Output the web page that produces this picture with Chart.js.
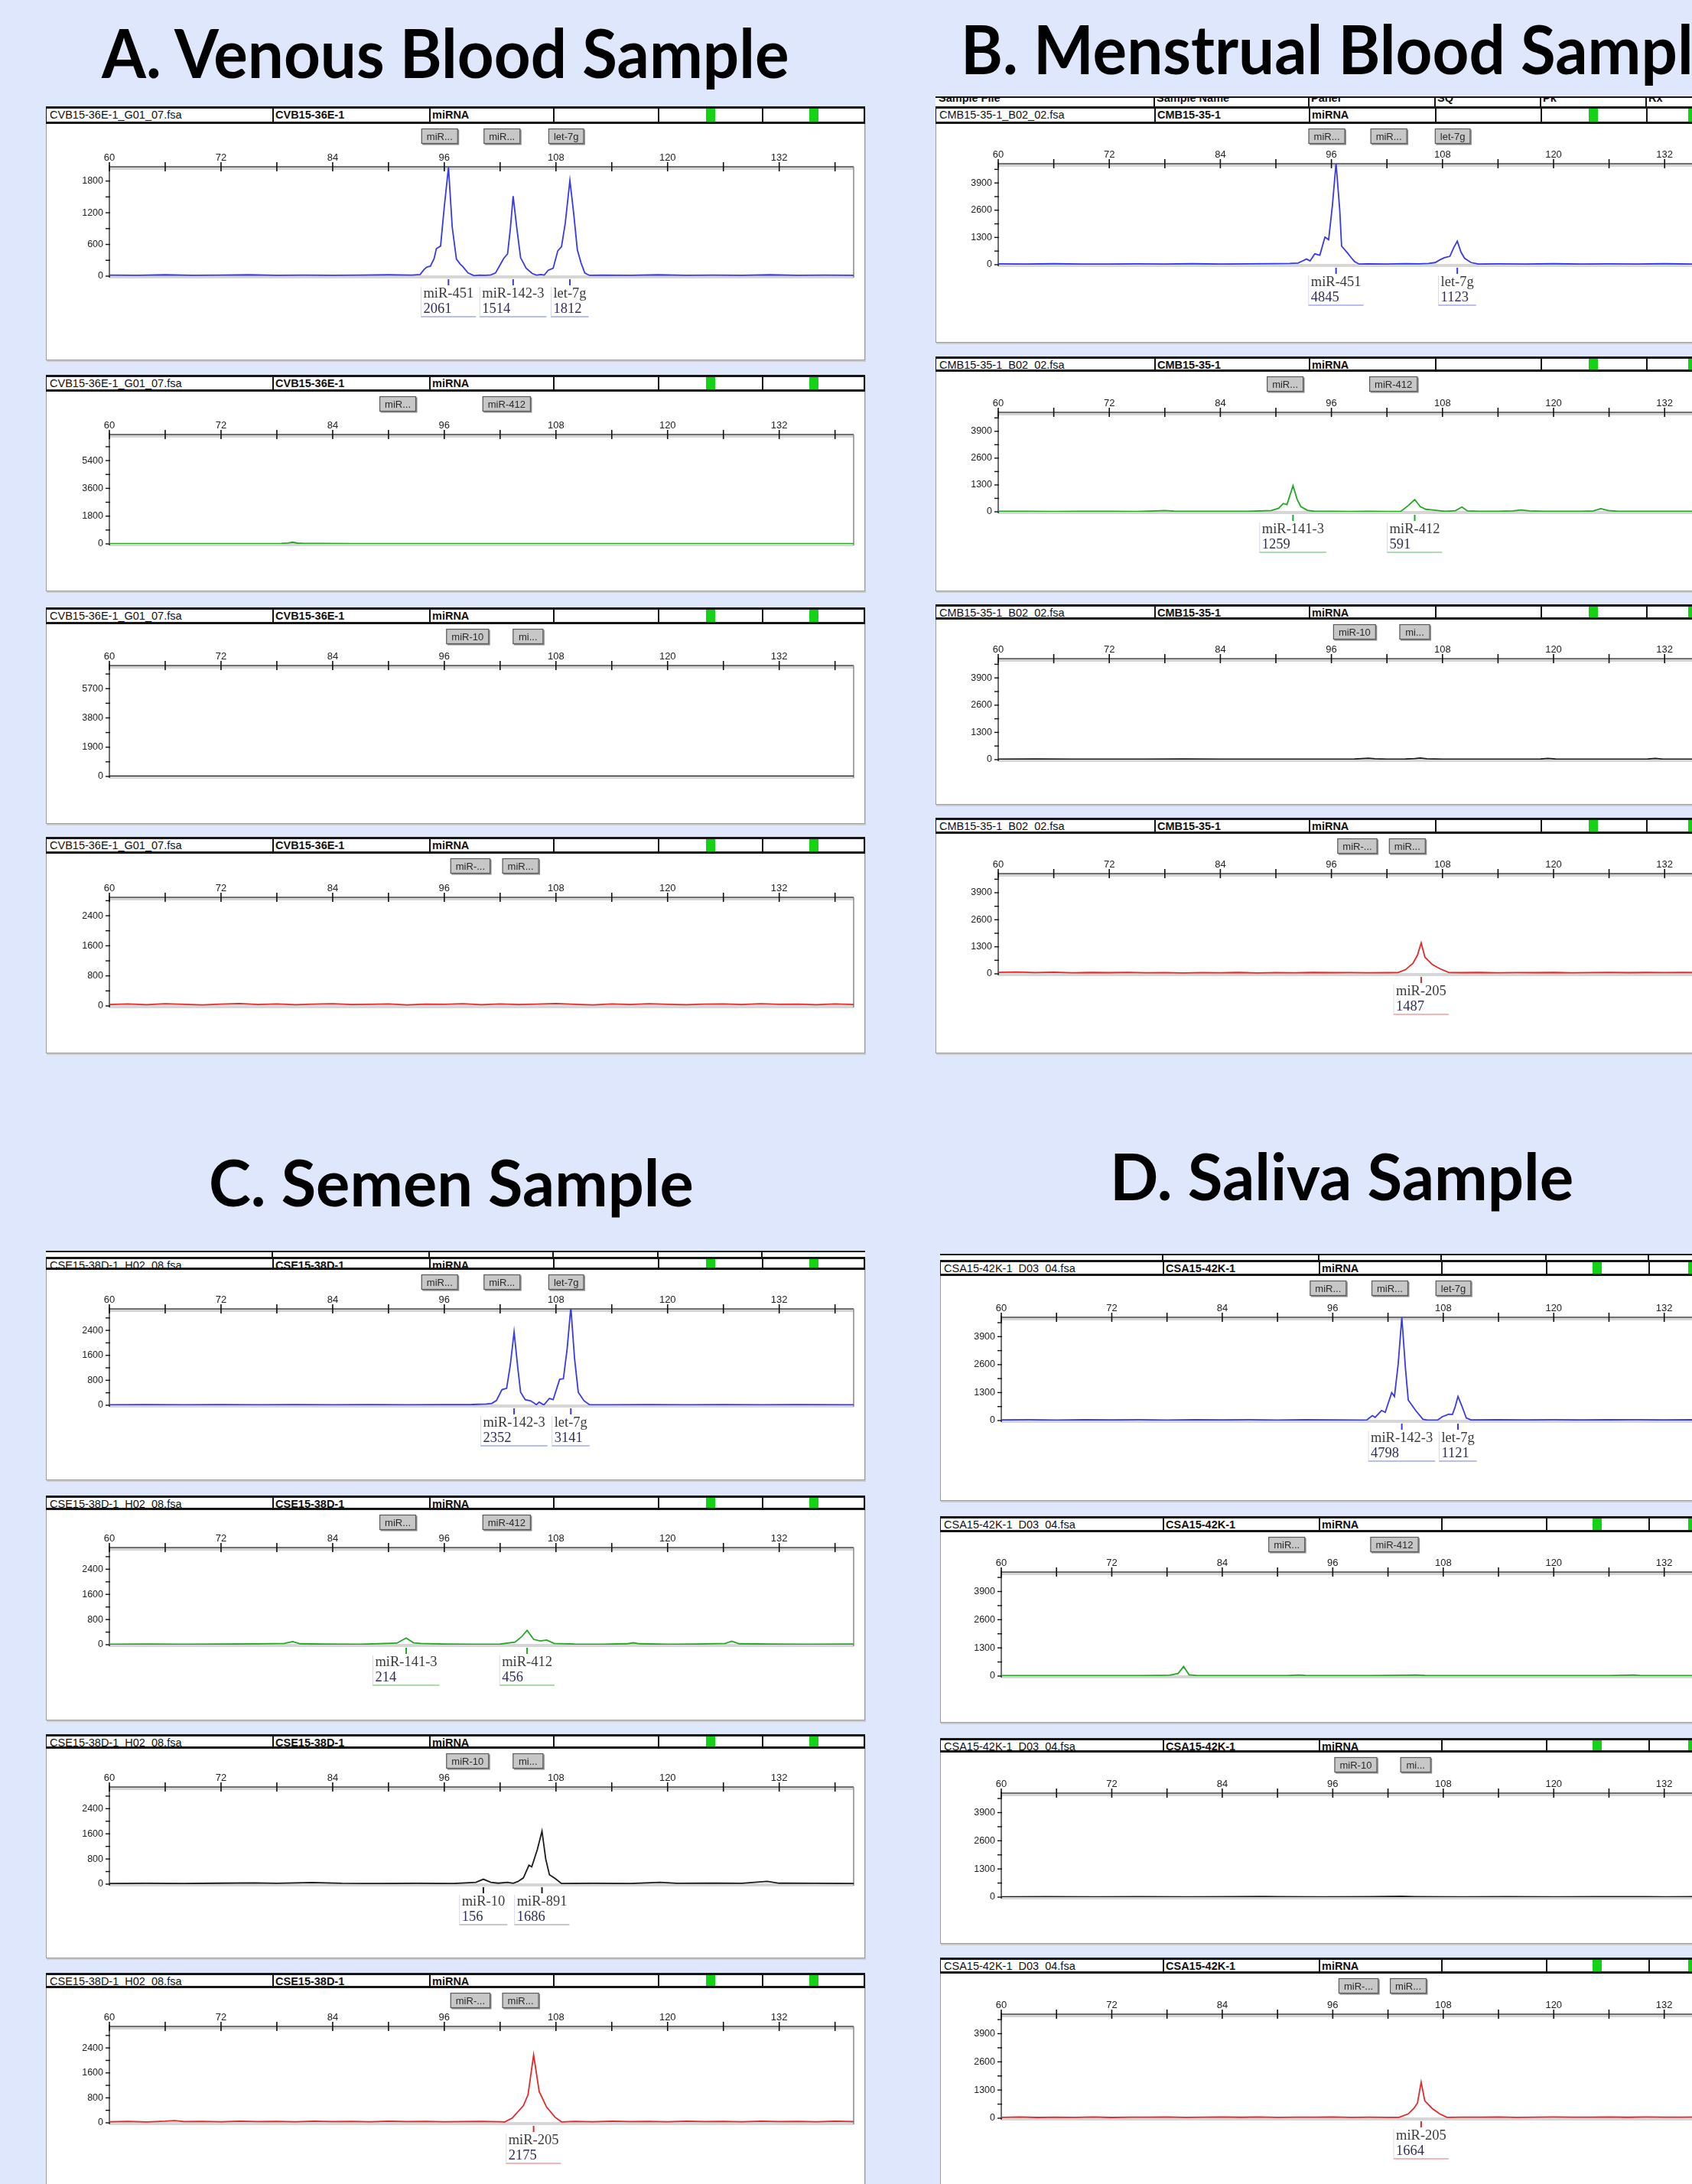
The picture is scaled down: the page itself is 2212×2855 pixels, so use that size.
<!DOCTYPE html>
<html><head><meta charset="utf-8">
<script src="https://cdn.jsdelivr.net/npm/chart.js@4.4.1/dist/chart.umd.min.js"></script>
<style>
html,body{margin:0;padding:0}
body{width:2212px;height:2855px;overflow:hidden;position:relative;background:#dee7fb;}
.title{position:absolute;font-family:Lato,'Open Sans',sans-serif;font-weight:700;white-space:nowrap;color:#000;line-height:1;transform-origin:0 0;}
.box{position:absolute;background:#fff;border:1px solid #9c9c9c;box-sizing:border-box;box-shadow:1px 2px 0 #cacaca;}
.hdr{position:absolute;background:#fff;box-sizing:border-box;border-top:3px solid #151515;border-bottom:3px solid #151515;border-left:1px solid #151515;border-right:2px solid #151515;overflow:hidden;}
.stub{position:absolute;background:#fff;box-sizing:border-box;border-top:2px solid #151515;overflow:hidden;}
.cell{position:absolute;top:0;bottom:0;font-family:'Liberation Sans',Arial,sans-serif;font-size:14.5px;color:#111;white-space:nowrap;padding-left:3px;line-height:16px;}
.bold{font-weight:700;}
.vdiv{position:absolute;top:0;bottom:0;width:2px;background:#151515}
.green{position:absolute;top:0;bottom:0;width:12px;background:#14d214}
canvas{position:absolute}
</style></head>
<body>
<script>
// ================= DATA =================
const xLabelValues = [60, 72, 84, 96, 108, 120, 132];

// y-axis tick labels per panel
const yLabelsVenousBlue = [0, 600, 1200, 1800];
const yLabelsVenousGreen = [0, 1800, 3600, 5400];
const yLabelsVenousBlack = [0, 1900, 3800, 5700];
const yLabelsVenousRed = [0, 800, 1600, 2400];
const yLabelsMenstrual = [0, 1300, 2600, 3900];
const yLabelsSemen = [0, 800, 1600, 2400];
const yLabelsSaliva = [0, 1300, 2600, 3900];

// bins (buttons above each trace)
const blueBinNames = ['miR...', 'miR...', 'let-7g'];
const blueBinSizes = [95.5, 102.2, 109.1];
const greenBinNames = ['miR...', 'miR-412'];
const greenBinSizes = [91.0, 102.7];
const blackBinNames = ['miR-10', 'mi...'];
const blackBinSizes = [98.5, 105.0];
const redBinNames = ['miR-...', 'miR...'];
const redBinSizes = [98.8, 104.2];

// traces: [size, RFU]
const venousBlue = [[60,20],[63,15],[66,25],[69,15],[72,20],[75,25],[78,15],[81,20],[84,15],[87,20],[90,25],[92.5,20],[93.4,30],[93.8,120],[94.1,170],[94.5,190],[94.9,330],[95.15,520],[95.6,570],[96.0,1316],[96.45,2061],[96.85,930],[97.3,324],[97.7,230],[98.0,180],[98.55,60],[99.2,10],[99.8,20],[100.4,15],[101.0,25],[101.5,60],[101.95,200],[102.4,340],[102.8,420],[103.1,900],[103.4,1514],[103.8,900],[104.2,350],[104.8,150],[105.45,50],[105.9,20],[106.4,30],[106.75,20],[107.15,110],[107.7,150],[108.2,480],[108.6,560],[109.0,1000],[109.5,1812],[109.9,1200],[110.3,500],[110.7,250],[111.1,60],[111.6,15],[113,20],[116,15],[119,25],[122,15],[125,20],[128,15],[131,25],[134,15],[137,20],[140,15]];
const venousGreen = [[60,20],[64,15],[68,20],[72,15],[76,20],[78.5,30],[79.2,60],[79.7,110],[80.2,50],[81,25],[83,30],[86,20],[90,15],[95,20],[100,15],[105,20],[110,15],[115,20],[120,15],[125,20],[130,15],[135,20],[140,15]];
const venousBlack = [[60,15],[70,20],[80,15],[90,20],[100,15],[110,20],[120,15],[130,20],[140,15]];
const venousRed = [[60,40],[62,55],[64,35],[66,60],[68,45],[70,30],[72,50],[74,65],[76,40],[78,55],[80,35],[82,50],[84,60],[86,40],[88,45],[90,55],[92,30],[94,50],[96,45],[98,60],[100,35],[102,55],[104,40],[106,50],[108,65],[110,45],[112,30],[114,55],[116,40],[118,60],[120,45],[122,35],[124,50],[126,55],[128,40],[130,60],[132,45],[134,50],[136,35],[138,55],[140,40]];

const menstrualBlue = [[60,40],[63,30],[66,45],[69,35],[72,30],[75,40],[78,35],[81,45],[84,30],[87,40],[90,50],[91.5,60],[92.4,80],[92.9,184],[93.3,270],[93.7,180],[94.2,516],[94.75,455],[95.3,1316],[95.7,1193],[96.1,2800],[96.5,4845],[96.9,2600],[97.1,886],[97.7,578],[98.2,300],[98.5,148],[99.0,30],[100,40],[102,35],[104,50],[105.5,40],[106.5,60],[107.2,100],[107.8,250],[108.2,330],[108.8,400],[109.2,800],[109.6,1123],[110.0,600],[110.4,300],[111.1,100],[111.9,30],[114,40],[117,35],[120,45],[123,30],[126,40],[129,35],[132,45],[135,30],[138,40],[140,35]];
const menstrualGreen = [[60,20],[63,25],[66,15],[69,20],[72,25],[75,15],[77,40],[78,60],[79,30],[81,20],[84,25],[87,20],[89.5,60],[90.3,170],[90.8,400],[91.2,350],[91.85,1259],[92.3,600],[92.7,250],[93.4,70],[94.2,20],[96,25],[98,15],[100,20],[102,15],[103.5,20],[104.3,300],[105,591],[105.6,250],[106.2,120],[106.7,100],[107.5,60],[108.3,20],[109.4,50],[110.1,230],[110.7,40],[112,20],[114,25],[115.6,40],[116.5,90],[117.4,40],[119,20],[121,25],[123,20],[124.3,40],[125.1,150],[125.9,60],[127,20],[130,25],[133,20],[136,25],[140,20]];
const menstrualBlack = [[60,20],[64,30],[68,20],[72,25],[76,20],[80,30],[84,20],[88,25],[92,20],[96,25],[98.5,30],[99.3,50],[100,70],[100.7,40],[102,25],[104,30],[105,50],[105.6,80],[106.3,40],[108,25],[112,20],[116,25],[118.6,30],[119.4,60],[120.2,30],[124,20],[128,25],[130.2,30],[131,60],[131.8,25],[135,20],[140,25]];
const menstrualRed = [[60,70],[62,90],[64,60],[66,75],[68,50],[70,65],[72,55],[74,70],[76,50],[78,60],[80,45],[82,60],[84,50],[86,65],[88,45],[90,60],[92,50],[94,65],[96,55],[98,60],[100,50],[102,55],[103.2,60],[104,200],[104.8,500],[105.3,900],[105.7,1487],[106.1,800],[106.9,450],[107.7,250],[108.7,60],[110,55],[112,65],[114,50],[116,60],[118,55],[120,65],[122,50],[124,60],[126,70],[128,55],[130,65],[132,60],[134,70],[136,55],[138,65],[140,60]];

const semenBlue = [[60,15],[64,20],[68,15],[72,20],[76,15],[80,20],[84,15],[88,20],[92,15],[96,20],[99,25],[100.5,40],[101.1,60],[101.6,150],[102.2,500],[102.7,545],[103.1,1300],[103.5,2352],[103.9,1200],[104.2,420],[104.7,180],[105.3,140],[105.9,20],[106.2,100],[106.7,10],[107.3,220],[107.7,180],[108.4,830],[108.8,850],[109.2,1800],[109.6,3141],[110.0,1500],[110.4,420],[111.0,150],[111.6,20],[114,15],[118,20],[122,15],[126,20],[130,15],[134,20],[140,15]];
const semenGreen = [[60,15],[64,20],[68,15],[72,20],[76,25],[78.8,40],[79.7,100],[80.5,30],[83,20],[87,15],[90.9,50],[91.9,214],[92.7,60],[93.5,40],[96,20],[99,15],[102,20],[103.6,80],[104.3,250],[104.9,456],[105.6,170],[106.3,120],[107,150],[107.8,40],[110,20],[113,15],[115.6,30],[116.3,60],[117,30],[120,15],[123,20],[126.2,40],[126.9,110],[127.7,30],[131,20],[135,15],[140,20]];
const semenBlack = [[60,20],[64,25],[68,20],[72,30],[75.6,40],[78,25],[81.8,50],[85,25],[89,20],[93,25],[97,20],[99.4,60],[100.2,156],[101,60],[101.8,30],[102.8,60],[103.4,30],[103.9,80],[104.5,200],[105.1,600],[105.4,550],[106.0,1100],[106.5,1686],[106.9,800],[107.3,300],[107.9,180],[108.6,20],[112,25],[116,20],[119.2,60],[121,25],[125,30],[128,25],[130.7,90],[132,30],[136,25],[140,20]];
const semenRed = [[60,35],[62,45],[64,30],[66,50],[67,70],[68,40],[70,45],[72,35],[74,50],[76,40],[78,45],[80,35],[82,50],[84,40],[86,45],[88,35],[90,50],[92,40],[94,45],[96,35],[98,40],[100,45],[102,35],[102.5,30],[103.3,150],[104.5,550],[105,900],[105.6,2175],[106.2,1000],[107,500],[107.9,180],[108.6,30],[110,45],[112,35],[114,50],[116,40],[118,45],[120,35],[122,50],[124,40],[126,45],[128,35],[130,50],[132,40],[134,45],[136,35],[138,50],[140,40]];

const salivaBlue = [[60,30],[63,40],[66,25],[69,35],[72,30],[75,40],[78,25],[81,35],[84,30],[87,40],[90,25],[93,35],[96,30],[99,25],[99.7,30],[100.3,230],[100.6,150],[101.3,470],[101.7,380],[102.4,1300],[102.7,1120],[103.1,2600],[103.5,4798],[103.9,2400],[104.2,950],[105.0,470],[105.8,60],[106.3,20],[107.4,30],[107.9,180],[108.6,300],[109.0,280],[109.3,650],[109.6,1121],[110.0,700],[110.5,120],[111.0,30],[114,35],[117,30],[120,40],[123,30],[126,35],[129,40],[132,30],[135,35],[138,30],[140,35]];
const salivaGreen = [[60,20],[64,25],[68,20],[72,25],[75,20],[77,30],[78.3,40],[79.2,120],[79.8,437],[80.4,60],[81.3,25],[84,20],[88,25],[91,20],[92.3,50],[93,30],[96,20],[100,25],[104,40],[105,50],[106,30],[110,25],[114,20],[118,25],[122,20],[126,25],[128.7,50],[129.5,25],[133,20],[137,25],[140,20]];
const salivaBlack = [[60,15],[65,20],[70,15],[75,20],[80,15],[85,20],[88.5,30],[90,20],[95,15],[100,20],[103.5,35],[105,20],[110,15],[115,20],[120,15],[125,20],[130,25],[132,15],[135,20],[140,15]];
const salivaRed = [[60,40],[62,55],[64,35],[66,50],[68,40],[70,55],[72,35],[74,50],[76,45],[78,55],[80,40],[82,50],[84,60],[86,45],[88,55],[90,40],[92,50],[94,45],[96,55],[98,40],[100,45],[102,40],[103.2,40],[104.2,200],[104.8,450],[105.2,700],[105.6,1664],[106.0,800],[106.8,450],[107.6,200],[108.4,40],[110,50],[112,45],[114,55],[116,40],[118,50],[120,55],[122,45],[124,50],[126,60],[128,45],[130,55],[132,50],[134,45],[136,55],[138,50],[140,60]];

// peak calls: names, heights, sizes
const venousBluePeakNames = ['miR-451', 'miR-142-3', 'let-7g'];
const venousBluePeakHeights = [2061, 1514, 1812];
const venousBluePeakSizes = [96.45, 103.4, 109.5];
const menstrualBluePeakNames = ['miR-451', 'let-7g'];
const menstrualBluePeakHeights = [4845, 1123];
const menstrualBluePeakSizes = [96.5, 109.6];
const menstrualGreenPeakNames = ['miR-141-3', 'miR-412'];
const menstrualGreenPeakHeights = [1259, 591];
const menstrualGreenPeakSizes = [91.85, 105.0];
const menstrualRedPeakNames = ['miR-205'];
const menstrualRedPeakHeights = [1487];
const menstrualRedPeakSizes = [105.7];
const semenBluePeakNames = ['miR-142-3', 'let-7g'];
const semenBluePeakHeights = [2352, 3141];
const semenBluePeakSizes = [103.5, 109.6];
const semenGreenPeakNames = ['miR-141-3', 'miR-412'];
const semenGreenPeakHeights = [214, 456];
const semenGreenPeakSizes = [91.9, 104.9];
const semenBlackPeakNames = ['miR-10', 'miR-891'];
const semenBlackPeakHeights = [156, 1686];
const semenBlackPeakSizes = [100.2, 106.5];
const semenRedPeakNames = ['miR-205'];
const semenRedPeakHeights = [2175];
const semenRedPeakSizes = [105.6];
const salivaBluePeakNames = ['miR-142-3', 'let-7g'];
const salivaBluePeakHeights = [4798, 1121];
const salivaBluePeakSizes = [103.5, 109.6];
const salivaRedPeakNames = ['miR-205'];
const salivaRedPeakHeights = [1664];
const salivaRedPeakSizes = [105.6];

const sampleFiles = { A: 'CVB15-36E-1_G01_07.fsa', B: 'CMB15-35-1_B02_02.fsa', C: 'CSE15-38D-1_H02_08.fsa', D: 'CSA15-42K-1_D03_04.fsa' };
const sampleNames = { A: 'CVB15-36E-1', B: 'CMB15-35-1', C: 'CSE15-38D-1', D: 'CSA15-42K-1' };
const panelTitles = { A: 'A. Venous Blood Sample', B: 'B. Menstrual Blood Sample', C: 'C. Semen Sample', D: 'D. Saliva Sample' };

// ================= STYLE / LAYOUT =================
const SANS = "'Liberation Sans', Arial, sans-serif";
const SERIF = "'Liberation Serif', 'Times New Roman', serif";
const DYE = {
  blue: { line: '#3838ee', light: '#b9bdf4' },
  green: { line: '#22a822', light: '#acdcac' },
  black: { line: '#1c1c1c', light: '#c8c8c8' },
  red: { line: '#e52828', light: '#f3b6b6' }
};
const COLS = {
  A: { box: 60, boxW: 1071, plotL: 143, plotR: 1116, divs: [295, 500, 662, 799, 935], greens: [862, 997] },
  B: { box: 1223, boxW: 1071, plotL: 1305, plotR: 2273, divs: [285, 487, 652, 790, 928], greens: [853, 983] },
  C: { box: 60, boxW: 1071, plotL: 143, plotR: 1116, divs: [295, 500, 662, 799, 935], greens: [862, 997] },
  D: { box: 1229, boxW: 1071, plotL: 1309, plotR: 2272, divs: [290, 494, 654, 791, 925], greens: [852, 977] }
};
const X_STEP = 6;
// [headerTop, headerBottom, xAxisY, baselineY, boxBottom]
const PANELS = [
  { col: 'A', g: [139, 161, 218, 361, 471], trace: venousBlue, dye: 'blue', yMax: 2070, yStep: 300, yLabels: yLabelsVenousBlue, bins: [blueBinNames, blueBinSizes], peaks: [venousBluePeakNames, venousBluePeakHeights, venousBluePeakSizes] },
  { col: 'A', g: [490, 511, 568, 711, 773], trace: venousGreen, dye: 'green', yMax: 7090, yStep: 900, yLabels: yLabelsVenousGreen, bins: [greenBinNames, greenBinSizes], peaks: null },
  { col: 'A', g: [794, 815, 870, 1015, 1077], trace: venousBlack, dye: 'black', yMax: 7200, yStep: 950, yLabels: yLabelsVenousBlack, bins: [blackBinNames, blackBinSizes], peaks: null },
  { col: 'A', g: [1094, 1115, 1173, 1315, 1377], trace: venousRed, dye: 'red', yMax: 2890, yStep: 400, yLabels: yLabelsVenousRed, bins: [redBinNames, redBinSizes], peaks: null },
  { col: 'B', g: [139, 161, 214, 346, 448], trace: menstrualBlue, dye: 'blue', yMax: 4820, yStep: 650, yLabels: yLabelsMenstrual, bins: [blueBinNames, blueBinSizes], peaks: [menstrualBluePeakNames, menstrualBluePeakHeights, menstrualBluePeakSizes] },
  { col: 'B', g: [466, 485, 539, 669, 773], trace: menstrualGreen, dye: 'green', yMax: 4820, yStep: 650, yLabels: yLabelsMenstrual, bins: [greenBinNames, greenBinSizes], peaks: [menstrualGreenPeakNames, menstrualGreenPeakHeights, menstrualGreenPeakSizes] },
  { col: 'B', g: [790, 809, 861, 993, 1052], trace: menstrualBlack, dye: 'black', yMax: 4820, yStep: 650, yLabels: yLabelsMenstrual, bins: [blackBinNames, blackBinSizes], peaks: null },
  { col: 'B', g: [1069, 1089, 1142, 1273, 1377], trace: menstrualRed, dye: 'red', yMax: 4820, yStep: 650, yLabels: yLabelsMenstrual, bins: [redBinNames, redBinSizes], peaks: [menstrualRedPeakNames, menstrualRedPeakHeights, menstrualRedPeakSizes] },
  { col: 'C', g: [1643, 1659, 1711, 1837, 1935], trace: semenBlue, dye: 'blue', yMax: 3090, yStep: 400, yLabels: yLabelsSemen, bins: [blueBinNames, blueBinSizes], peaks: [semenBluePeakNames, semenBluePeakHeights, semenBluePeakSizes] },
  { col: 'C', g: [1955, 1973, 2023, 2150, 2249], trace: semenGreen, dye: 'green', yMax: 3090, yStep: 400, yLabels: yLabelsSemen, bins: [greenBinNames, greenBinSizes], peaks: [semenGreenPeakNames, semenGreenPeakHeights, semenGreenPeakSizes] },
  { col: 'C', g: [2267, 2285, 2336, 2463, 2560], trace: semenBlack, dye: 'black', yMax: 3090, yStep: 400, yLabels: yLabelsSemen, bins: [blackBinNames, blackBinSizes], peaks: [semenBlackPeakNames, semenBlackPeakHeights, semenBlackPeakSizes] },
  { col: 'C', g: [2579, 2598, 2649, 2775, 2880], trace: semenRed, dye: 'red', yMax: 3090, yStep: 400, yLabels: yLabelsSemen, bins: [redBinNames, redBinSizes], peaks: [semenRedPeakNames, semenRedPeakHeights, semenRedPeakSizes] },
  { col: 'D', g: [1647, 1667, 1722, 1857, 1962], trace: salivaBlue, dye: 'blue', yMax: 4800, yStep: 650, yLabels: yLabelsSaliva, bins: [blueBinNames, blueBinSizes], peaks: [salivaBluePeakNames, salivaBluePeakHeights, salivaBluePeakSizes] },
  { col: 'D', g: [1982, 2002, 2055, 2191, 2252], trace: salivaGreen, dye: 'green', yMax: 4800, yStep: 650, yLabels: yLabelsSaliva, bins: [greenBinNames, greenBinSizes], peaks: null },
  { col: 'D', g: [2272, 2290, 2344, 2480, 2541], trace: salivaBlack, dye: 'black', yMax: 4800, yStep: 650, yLabels: yLabelsSaliva, bins: [blackBinNames, blackBinSizes], peaks: null },
  { col: 'D', g: [2559, 2579, 2633, 2769, 2880], trace: salivaRed, dye: 'red', yMax: 4800, yStep: 650, yLabels: yLabelsSaliva, bins: [redBinNames, redBinSizes], peaks: [salivaRedPeakNames, salivaRedPeakHeights, salivaRedPeakSizes] }
];

// ================= BUILD =================
function el(tag, cls, parent) { const e = document.createElement(tag); if (cls) e.className = cls; (parent || document.body).appendChild(e); return e; }
function px(e, props) { for (const k in props) e.style[k] = typeof props[k] === 'number' ? props[k] + 'px' : props[k]; }

function placeTitle(text, left, baseline, fs, targetW, forcedScale) {
  const d = el('div', 'title');
  d.style.fontSize = fs + 'px';
  d.appendChild(document.createTextNode(text));
  const probe = document.createElement('span');
  probe.style.display = 'inline-block'; probe.style.width = '0px'; probe.style.height = '0px';
  d.appendChild(probe);
  px(d, { left: left, top: 0 });
  const bl = probe.offsetTop;
  const w = d.offsetWidth;
  const s = forcedScale || (targetW / w);
  px(d, { top: baseline - bl });
  d.style.transform = 'scaleX(' + s + ')';
  return s;
}

function header(col, top, height) {
  const c = COLS[col];
  const h = el('div', 'hdr');
  px(h, { left: c.box, top: top, width: c.boxW, height: height });
  const starts = [0].concat(c.divs);
  const texts = [sampleFiles[col], sampleNames[col], 'miRNA', '', '', ''];
  starts.forEach((s, i) => {
    const cell = el('div', 'cell' + (i > 0 ? ' bold' : ''), h);
    px(cell, { left: s + 1 });
    cell.textContent = texts[i];
  });
  c.divs.forEach(d => { const v = el('div', 'vdiv', h); px(v, { left: d }); });
  c.greens.forEach(gx => { const g = el('div', 'green', h); px(g, { left: gx }); });
}

function stubRow(col, top, height, labels, textTop) {
  const c = COLS[col];
  const s = el('div', 'stub');
  px(s, { left: c.box, top: top, width: c.boxW, height: height });
  const starts = [0].concat(c.divs);
  starts.forEach((st, i) => {
    if (labels && labels[i]) {
      const cell = el('div', 'cell bold', s);
      px(cell, { left: st + 1, top: textTop, bottom: 'auto' });
      cell.textContent = labels[i];
    }
  });
  c.divs.forEach(d => { const v = el('div', 'vdiv', s); px(v, { left: d }); });
}

function seg(ctx, x1, y1, x2, y2, color, w) {
  ctx.beginPath(); ctx.strokeStyle = color; ctx.lineWidth = w;
  ctx.moveTo(x1, y1); ctx.lineTo(x2, y2); ctx.stroke();
}

function egram(p) {
  const dye = DYE[p.dye];
  return {
    id: 'egram',
    beforeDatasetsDraw(chart) {
      const ctx = chart.ctx, a = chart.chartArea, xs = chart.scales.x, ys = chart.scales.y;
      ctx.save();
      ctx.fillStyle = '#d6d6d6';
      ctx.fillRect(a.left, a.bottom - 1, a.right - a.left, 4);
      ctx.fillStyle = '#d4d4d4';
      ctx.fillRect(a.left, a.top, a.right - a.left, 4);
      seg(ctx, a.left, a.top, a.right, a.top, '#4a4a4a', 1.5);
      seg(ctx, a.right, a.top, a.right, a.bottom + 2, '#8a8a8a', 1.5);
      seg(ctx, a.left, a.top - 2, a.left, a.bottom + 2, '#111', 1.2);
      xs.ticks.forEach(t => { const x = xs.getPixelForValue(t.value); seg(ctx, x, a.top - 6, x, a.top + 6, '#111', 1.6); });
      ys.ticks.forEach(t => { const y = ys.getPixelForValue(t.value); seg(ctx, a.left - 5, y, a.left + 1, y, '#111', 1.4); });
      ctx.restore();
    },
    afterDraw(chart) {
      const ctx = chart.ctx, a = chart.chartArea, xs = chart.scales.x;
      ctx.save();
      // bin buttons
      ctx.font = '13px ' + SANS;
      const [bn, bs] = p.bins;
      bn.forEach((name, i) => {
        const cx = xs.getPixelForValue(bs[i]);
        const tw = ctx.measureText(name).width;
        const w = Math.max(tw + 14, 40), h = 20, x0 = cx - w / 2, y0 = 6;
        ctx.fillStyle = '#8a8a8a'; ctx.fillRect(x0 + 1.5, y0 + 1.5, w, h);
        ctx.fillStyle = '#c7c7c7'; ctx.fillRect(x0, y0, w, h);
        ctx.strokeStyle = '#5a5a5a'; ctx.lineWidth = 1.2; ctx.strokeRect(x0 + 0.5, y0 + 0.5, w - 1, h - 1);
        ctx.fillStyle = '#2a2a2a'; ctx.textAlign = 'center'; ctx.textBaseline = 'middle';
        ctx.fillText(name, cx, y0 + h / 2 + 1);
      });
      // peak calls
      if (p.peaks) {
        const [names, heights, sizes] = p.peaks;
        ctx.font = '18.5px ' + SERIF;
        names.forEach((nm, i) => {
          const x = xs.getPixelForValue(sizes[i]), by = a.bottom;
          seg(ctx, x, by + 4, x, by + 12, dye.line, 2);
          const hs = String(heights[i]);
          const bw = Math.max(ctx.measureText(nm).width, ctx.measureText(hs).width) + 6;
          const lx = x - bw / 2;
          seg(ctx, lx, by + 14, lx, by + 54, '#d9d9e6', 1);
          seg(ctx, lx, by + 53, lx + bw, by + 53, dye.light, 2);
          ctx.textAlign = 'left'; ctx.textBaseline = 'middle';
          ctx.fillStyle = '#3a3a3a'; ctx.fillText(nm, lx + 3, by + 23);
          ctx.fillStyle = '#2e2e58'; ctx.fillText(hs, lx + 3, by + 43);
        });
      }
      ctx.restore();
    }
  };
}

function buildPanel(p) {
  const c = COLS[p.col];
  const [H, HB, AX, BL, BB] = p.g;
  const box = el('div', 'box');
  px(box, { left: c.box, top: H, width: c.boxW, height: BB - H });
  header(p.col, H, HB - H + 1);
  const cv = el('canvas');
  const cl = c.box + 1, ct = HB + 1, cw = c.boxW - 2, ch = BB - HB - 2;
  cv.width = cw; cv.height = ch;
  px(cv, { left: cl, top: ct, width: cw, height: ch });
  const yW = c.plotL - cl, xH = AX - ct, padR = cl + cw - c.plotR, padB = ct + ch - BL;
  const dye = DYE[p.dye];
  new Chart(cv, {
    type: 'line',
    data: { datasets: [{ data: p.trace.map(([x, y]) => ({ x: x, y: y })), borderColor: dye.line, borderWidth: 1.8, pointRadius: 0, tension: 0, fill: false }] },
    options: {
      responsive: false, animation: false, devicePixelRatio: 1, events: [],
      layout: { padding: { left: 0, top: 0, right: padR, bottom: padB } },
      plugins: { legend: { display: false }, tooltip: { enabled: false }, title: { display: false } },
      scales: {
        x: {
          type: 'linear', position: 'top', min: 60, max: 140,
          afterFit: s => { s.height = xH; },
          afterBuildTicks: s => { const t = []; for (let v = 60; v < 140; v += X_STEP) t.push({ value: v }); s.ticks = t; },
          grid: { display: false, drawTicks: false }, border: { display: false },
          ticks: { autoSkip: false, maxRotation: 0, padding: 4, color: '#222', font: { family: SANS, size: 13 },
            callback: v => xLabelValues.includes(v) ? String(v) : '' }
        },
        y: {
          type: 'linear', min: 0, max: p.yMax,
          afterFit: s => { s.width = yW; },
          afterBuildTicks: s => { const t = []; for (let v = 0; v <= p.yMax; v += p.yStep) t.push({ value: v }); s.ticks = t; },
          grid: { display: false, drawTicks: false }, border: { display: false },
          ticks: { autoSkip: false, padding: 8, color: '#222', font: { family: SANS, size: 12.5 },
            callback: v => p.yLabels.includes(v) ? String(v) : '' }
        }
      }
    },
    plugins: [egram(p)]
  });
}

// stub rows (partially visible table rows above the first headers)
stubRow('B', 126, 14, ['Sample File', 'Sample Name', 'Panel', 'SQ', 'Pk', 'Rx'], -8);
stubRow('C', 1635, 9, null, 0);
stubRow('D', 1639, 9, null, 0);

PANELS.forEach(buildPanel);

// titles
const sA = placeTitle(panelTitles.A, 133, 102, 88, 899);
placeTitle(panelTitles.B, 1256, 97, 88, 0, sA);
placeTitle(panelTitles.C, 273, 1577, 84, 634);
placeTitle(panelTitles.D, 1451, 1569, 84, 606);
</script>
</body></html>
